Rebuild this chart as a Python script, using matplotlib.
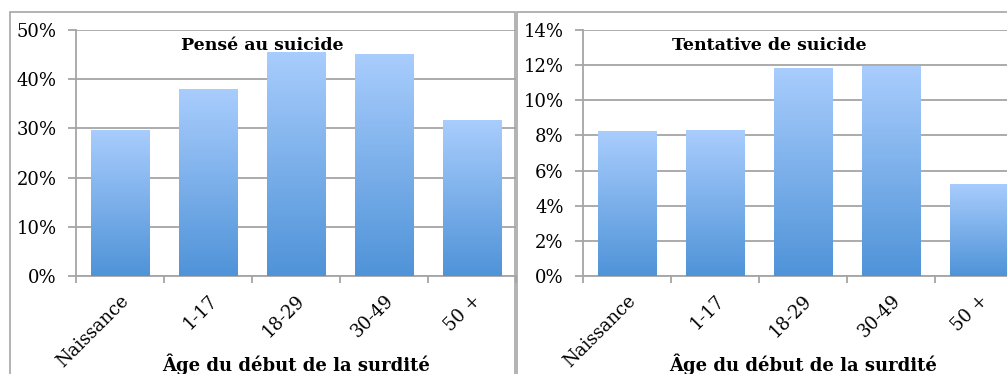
import matplotlib
matplotlib.use("Agg")
import matplotlib.pyplot as plt
import numpy as np
from matplotlib.patches import Rectangle
from matplotlib.colors import LinearSegmentedColormap
from matplotlib.ticker import FuncFormatter, MultipleLocator, FixedLocator

categories = ["Naissance", "1-17", "18-29", "30-49", "50 +"]
pense_values = [29.7, 38.0, 45.6, 45.1, 31.7]
tentative_values = [8.25, 8.3, 11.85, 11.95, 5.25]
titles = ["Pensé au suicide", "Tentative de suicide"]
xlabel = "Âge du début de la surdité"
ymax = [50, 14]
ystep = [10, 2]

plt.rcParams['font.family'] = ['DejaVu Serif']

W, H = 1007, 374
fig = plt.figure(figsize=(W / 100, H / 100), dpi=100)

grey = "#a5a5a5"
cmap = LinearSegmentedColormap.from_list("g", ["#4f93d8", "#a9cdfd"])
grad = np.linspace(0, 1, 256).reshape(-1, 1)

# panel borders
fig.patches.append(Rectangle((10 / W, -0.1), 505 / W, 1 - 12 / H + 0.1,
                             transform=fig.transFigure, fill=False, ec=grey, lw=1.2))
fig.patches.append(Rectangle((517 / W, -0.1), 600 / W, 1 - 12 / H + 0.1,
                             transform=fig.transFigure, fill=False, ec=grey, lw=1.2))

lefts = [76, 583]
for i, (vals, title) in enumerate(zip([pense_values, tentative_values], titles)):
    ax = fig.add_axes([lefts[i] / W, 1 - 276 / H, 440 / W, 246 / H])
    x = np.arange(len(categories))
    bars = ax.bar(x, vals, width=0.67, color="none", zorder=3)
    for b in bars:
        im = ax.imshow(grad, extent=(b.get_x(), b.get_x() + b.get_width(), 0, b.get_height()),
                       origin="lower", cmap=cmap, aspect="auto", zorder=3)
        im.set_clip_path(b)
    ax.set_xlim(-0.5, len(categories) - 0.5)
    ax.set_ylim(0, ymax[i])
    ax.yaxis.set_major_locator(MultipleLocator(ystep[i]))
    ax.yaxis.set_major_formatter(FuncFormatter(lambda v, p: f"{v:.0f}%"))
    ax.grid(axis="y", color=grey, lw=1.3, zorder=0)
    ax.set_axisbelow(True)
    for s in ["top", "right"]:
        ax.spines[s].set_visible(False)
    for s in ["left", "bottom"]:
        ax.spines[s].set_color(grey)
        ax.spines[s].set_linewidth(1.3)
    ax.set_xticks(x)
    ax.set_xticklabels(categories, rotation=45, ha="right", va="top", rotation_mode="anchor")
    ax.xaxis.set_minor_locator(FixedLocator(np.arange(-0.5, len(categories), 1)))
    ax.tick_params(axis="x", which="major", length=0, pad=11, labelsize=13)
    ax.tick_params(axis="x", which="minor", length=5, color=grey, width=1.3)
    ax.tick_params(axis="y", length=6, color=grey, width=1.3, pad=8, labelsize=13)
    ax.text(0.424, 0.935, title, transform=ax.transAxes, ha="center", va="center",
            fontsize=12.5, fontweight="bold", zorder=5)
    ax.set_xlabel(xlabel, fontsize=13, fontweight="bold", labelpad=-12)

fig.savefig("out.png", dpi=100)
